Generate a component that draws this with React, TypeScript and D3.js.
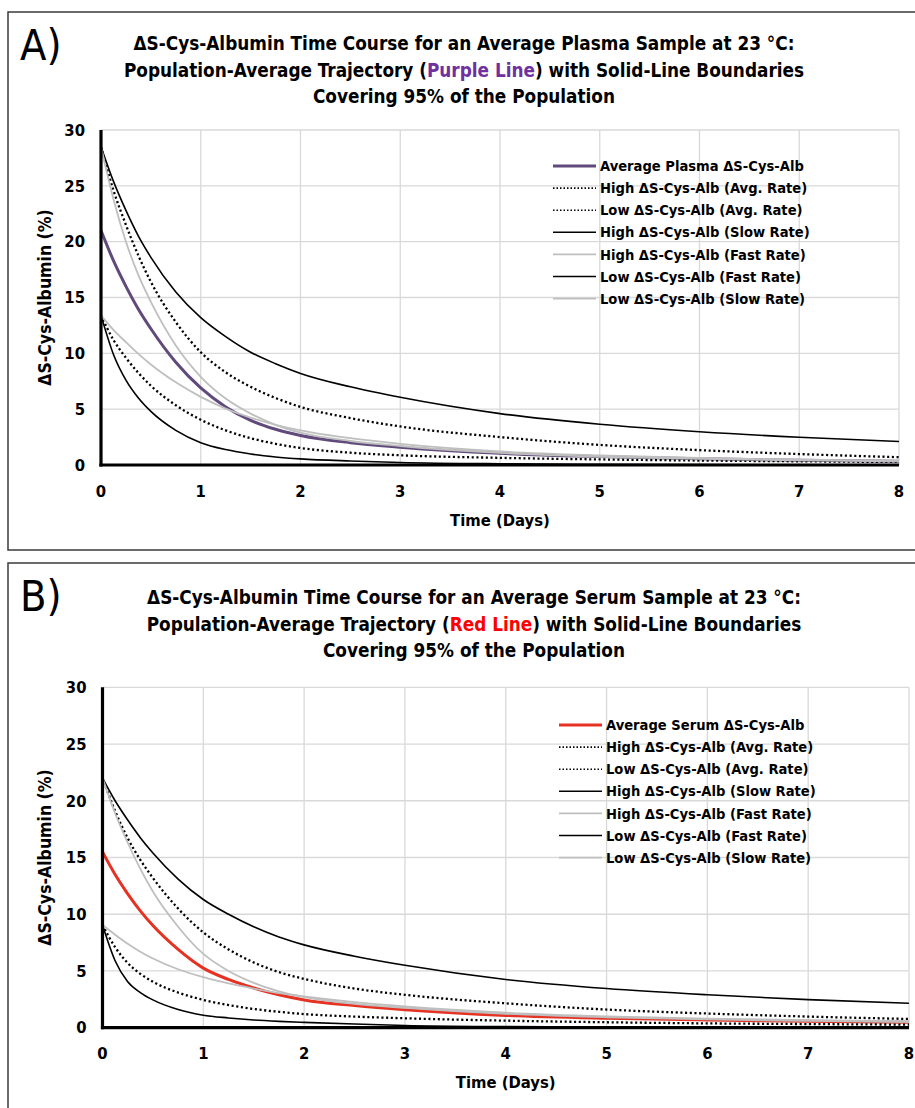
import React from "react";
import * as d3 from "d3";

// Sampling times (days) for every trajectory
const DAYS = [0, 0.125, 0.25, 0.375, 0.5, 0.75, 1, 1.25, 1.5, 1.75, 2, 2.5, 3, 4, 5, 6, 7, 8];

// Plasma (panel A) trajectories, ΔS-Cys-Albumin (%)
const PLASMA_AVG = [21.0, 18.3, 16.0, 13.95, 12.2, 9.2, 6.9, 5.2, 4.0, 3.2, 2.65, 2.0, 1.6, 1.05, 0.75, 0.55, 0.42, 0.33];
const PLASMA_HIGH_AVG = [28.5, 24.6, 21.5, 18.75, 16.4, 12.8, 10.1, 8.3, 7.0, 6.0, 5.2, 4.2, 3.45, 2.5, 1.8, 1.33, 0.98, 0.7];
const PLASMA_LOW_AVG = [13.4, 11.2, 9.6, 8.25, 7.1, 5.35, 4.05, 3.1, 2.4, 1.9, 1.52, 1.1, 0.87, 0.64, 0.5, 0.4, 0.33, 0.27];
const PLASMA_HIGH_SLOW = [28.5, 25.4, 22.8, 20.5, 18.6, 15.5, 13.2, 11.5, 10.1, 9.07, 8.2, 7.0, 6.06, 4.6, 3.65, 2.98, 2.48, 2.1];
const PLASMA_HIGH_FAST = [28.5, 23.8, 20.0, 17.0, 14.6, 10.7, 7.9, 5.95, 4.6, 3.6, 2.9, 2.15, 1.7, 1.08, 0.74, 0.54, 0.41, 0.32];
const PLASMA_LOW_FAST = [13.4, 9.9, 7.6, 6.0, 4.8, 3.1, 2.0, 1.38, 0.98, 0.72, 0.55, 0.36, 0.23, 0.11, 0.06, 0.035, 0.02, 0.01];
const PLASMA_LOW_SLOW = [13.4, 12.1, 11.0, 9.95, 9.0, 7.4, 6.1, 5.05, 4.25, 3.6, 3.1, 2.4, 1.9, 1.22, 0.86, 0.63, 0.48, 0.38];

// Serum (panel B) trajectories, ΔS-Cys-Albumin (%)
const SERUM_AVG = [15.5, 13.5, 11.8, 10.3, 9.0, 6.9, 5.25, 4.25, 3.5, 2.9, 2.45, 1.95, 1.58, 1.08, 0.83, 0.68, 0.57, 0.47];
const SERUM_HIGH_AVG = [22.0, 19.1, 16.7, 14.8, 13.2, 10.5, 8.4, 6.9, 5.75, 4.9, 4.3, 3.45, 2.9, 2.15, 1.6, 1.25, 0.98, 0.77];
const SERUM_LOW_AVG = [9.05, 7.1, 5.7, 4.75, 4.05, 3.1, 2.45, 2.0, 1.65, 1.4, 1.2, 0.98, 0.83, 0.62, 0.48, 0.38, 0.32, 0.27];
const SERUM_HIGH_SLOW = [22.0, 20.0, 18.3, 16.75, 15.4, 13.1, 11.3, 10.0, 8.9, 8.0, 7.3, 6.3, 5.5, 4.25, 3.45, 2.9, 2.47, 2.15];
const SERUM_HIGH_FAST = [22.0, 18.9, 16.3, 14.0, 12.0, 8.9, 6.5, 5.0, 3.95, 3.2, 2.7, 2.1, 1.75, 1.22, 0.92, 0.73, 0.6, 0.5];
const SERUM_LOW_FAST = [9.05, 5.9, 4.05, 3.1, 2.45, 1.6, 1.1, 0.86, 0.68, 0.56, 0.47, 0.32, 0.2, 0.1, 0.06, 0.04, 0.03, 0.02];
const SERUM_LOW_SLOW = [9.05, 8.2, 7.4, 6.7, 6.1, 5.15, 4.45, 3.9, 3.45, 3.05, 2.75, 2.25, 1.87, 1.32, 1.0, 0.8, 0.67, 0.57];

// Legend labels for the six boundary curves, in drawing order
const BOUND_LABELS = [
  "High ΔS-Cys-Alb (Avg. Rate)",
  "Low ΔS-Cys-Alb (Avg. Rate)",
  "High ΔS-Cys-Alb (Slow Rate)",
  "High ΔS-Cys-Alb (Fast Rate)",
  "Low ΔS-Cys-Alb (Fast Rate)",
  "Low ΔS-Cys-Alb (Slow Rate)",
];
const BOUND_KINDS = ["dot", "dot", "black", "grey", "black", "grey"];

const X_TICKS = [0, 1, 2, 3, 4, 5, 6, 7, 8];
const Y_TICKS = [0, 5, 10, 15, 20, 25, 30];

const FONT = "'Liberation Sans Narrow', 'DejaVu Sans Condensed', Carlito, sans-serif";
const GRID = "#d9d9d9";

type PanelProps = {
  letter: string;
  titleLines: [string, string, string];
  titleColorWord: string;
  titleColor: string;
  avgLabel: string;
  avgColor: string;
  series: number[][]; // average first, then the bounds in legend order
  frameTop: number;
  frameHeight: number;
  titleX: number;
  titleY: number;
  x0: number;
  x1: number;
  y0: number;
  y1: number;
  legendX: number;
  legendY: number;
};

function styleFor(kind: string) {
  if (kind === "dot") return { stroke: "#000", width: 2.3, dash: "2.1 2.6" };
  if (kind === "black") return { stroke: "#000", width: 1.6, dash: undefined };
  return { stroke: "#bfbfbf", width: 1.8, dash: undefined };
}

function Panel(p: PanelProps) {
  const x = d3.scaleLinear().domain([0, 8]).range([p.x0, p.x1]);
  const y = d3.scaleLinear().domain([0, 30]).range([p.y0, p.y1]);
  const line = d3
    .line<number>()
    .x((_, i) => x(DAYS[i]))
    .y((d) => y(d))
    .curve(d3.curveMonotoneX);

  const [l1, l2, l3] = p.titleLines;
  const [pre, post] = l2.split(p.titleColorWord);
  const midX = (p.x0 + p.x1) / 2;
  const midY = (p.y0 + p.y1) / 2;
  const rowH = 22.1;

  return (
    <g fontFamily={FONT} fontWeight="bold">
      <rect x={8} y={p.frameTop} width={940} height={p.frameHeight} fill="none" stroke="#3a3a3a" strokeWidth={1.5} />
      <text x={20} y={p.frameTop + 48} fontSize={43} fontWeight="normal" fill="#000">
        {p.letter}
      </text>
      <g fontSize={18.8} textAnchor="middle" fill="#000">
        <text x={p.titleX} y={p.titleY}>{l1}</text>
        <text x={p.titleX} y={p.titleY + 26.5}>
          {pre}
          <tspan fill={p.titleColor}>{p.titleColorWord}</tspan>
          {post}
        </text>
        <text x={p.titleX} y={p.titleY + 53}>{l3}</text>
      </g>

      {/* gridlines */}
      {Y_TICKS.filter((t) => t > 0).map((t) => (
        <line key={"gy" + t} x1={p.x0} x2={p.x1} y1={y(t)} y2={y(t)} stroke={GRID} strokeWidth={1.3} />
      ))}
      {X_TICKS.filter((t) => t > 0).map((t) => (
        <line key={"gx" + t} x1={x(t)} x2={x(t)} y1={y(0)} y2={y(30)} stroke={GRID} strokeWidth={1.3} />
      ))}

      {/* trajectories */}
      <path d={line(p.series[0]) || ""} fill="none" stroke={p.avgColor} strokeWidth={3} />
      {p.series.slice(1).map((s, i) => {
        const st = styleFor(BOUND_KINDS[i]);
        return (
          <path
            key={"s" + i}
            d={line(s) || ""}
            fill="none"
            stroke={st.stroke}
            strokeWidth={st.width}
            strokeDasharray={st.dash}
          />
        );
      })}

      {/* axes */}
      <line x1={p.x0} x2={p.x0} y1={y(30)} y2={y(0) + 1.5} stroke="#000" strokeWidth={3.2} />
      <line x1={p.x0 - 1.6} x2={p.x1} y1={y(0)} y2={y(0)} stroke="#000" strokeWidth={3.2} />

      <g fontSize={16.5} fill="#000">
        {Y_TICKS.map((t) => (
          <text key={"ty" + t} x={p.x0 - 16} y={y(t)} dy="0.35em" textAnchor="end">
            {t}
          </text>
        ))}
        {X_TICKS.map((t) => (
          <text key={"tx" + t} x={x(t)} y={y(0) + 26} dy="0.35em" textAnchor="middle">
            {t}
          </text>
        ))}
      </g>
      <text x={midX} y={y(0) + 55} dy="0.35em" textAnchor="middle" fontSize={16.5}>
        Time (Days)
      </text>
      <text
        transform={`translate(${45},${midY}) rotate(-90)`}
        textAnchor="middle"
        dy="0.35em"
        fontSize={17.5}
      >
        ΔS-Cys-Albumin (%)
      </text>

      {/* legend */}
      <g fontSize={14.6}>
        {[p.avgLabel, ...BOUND_LABELS].map((lab, i) => {
          const ly = p.legendY + i * rowH;
          let st = { stroke: p.avgColor, width: 3, dash: undefined as string | undefined };
          if (i > 0) {
            const k = BOUND_KINDS[i - 1];
            st = k === "dot" ? { stroke: "#000", width: 1.6, dash: "1.5 2" } : styleFor(k);
          }
          return (
            <g key={"lg" + i}>
              <line x1={p.legendX} x2={p.legendX + 43} y1={ly} y2={ly} stroke={st.stroke} strokeWidth={st.width} strokeDasharray={st.dash} />
              <text x={p.legendX + 47} y={ly} dy="0.35em" fill="#000">
                {lab}
              </text>
            </g>
          );
        })}
      </g>
    </g>
  );
}

export default function App() {
  return (
    <svg
      width={915}
      height={1108}
      style={{ position: "absolute", left: 0, top: 0, display: "block", background: "#fff" }}
    >
      <rect x={0} y={0} width={915} height={1108} fill="#fff" />
      <Panel
        letter="A)"
        titleLines={[
          "ΔS-Cys-Albumin Time Course for an Average Plasma Sample at 23 °C:",
          "Population-Average Trajectory (Purple Line) with Solid-Line Boundaries",
          "Covering 95% of the Population",
        ]}
        titleColorWord="Purple Line"
        titleColor="#7030a0"
        avgLabel="Average Plasma ΔS-Cys-Alb"
        avgColor="#604a7b"
        series={[
          PLASMA_AVG,
          PLASMA_HIGH_AVG,
          PLASMA_LOW_AVG,
          PLASMA_HIGH_SLOW,
          PLASMA_HIGH_FAST,
          PLASMA_LOW_FAST,
          PLASMA_LOW_SLOW,
        ]}
        frameTop={12}
        frameHeight={538}
        titleX={464}
        titleY={50}
        x0={101}
        x1={899}
        y0={465}
        y1={130}
        legendX={553}
        legendY={166}
      />
      <Panel
        letter="B)"
        titleLines={[
          "ΔS-Cys-Albumin Time Course for an Average Serum Sample at 23 °C:",
          "Population-Average Trajectory (Red Line) with Solid-Line Boundaries",
          "Covering 95% of the Population",
        ]}
        titleColorWord="Red Line"
        titleColor="#ff0000"
        avgLabel="Average Serum ΔS-Cys-Alb"
        avgColor="#e53223"
        series={[
          SERUM_AVG,
          SERUM_HIGH_AVG,
          SERUM_LOW_AVG,
          SERUM_HIGH_SLOW,
          SERUM_HIGH_FAST,
          SERUM_LOW_FAST,
          SERUM_LOW_SLOW,
        ]}
        frameTop={563}
        frameHeight={600}
        titleX={474}
        titleY={604}
        x0={102.5}
        x1={909}
        y0={1027.7}
        y1={687.3}
        legendX={559}
        legendY={725}
      />
    </svg>
  );
}
